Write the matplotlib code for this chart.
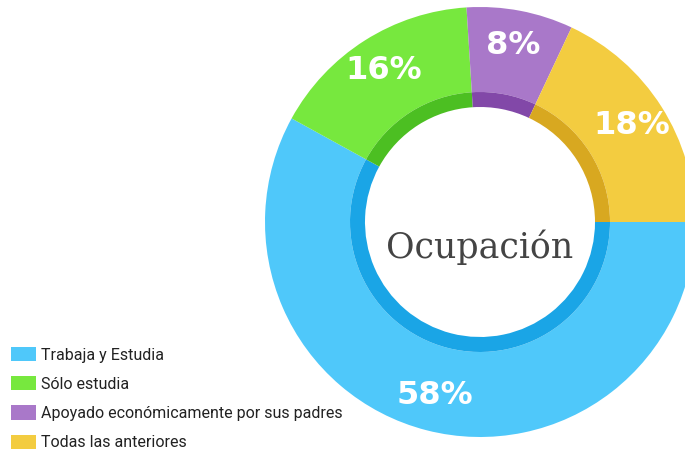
import matplotlib
matplotlib.use("Agg")
import matplotlib.pyplot as plt

# data
categories = ["Trabaja y Estudia", "Sólo estudia",
              "Apoyado económicamente por sus padres", "Todas las anteriores"]
shares = [58, 16, 8, 18]
colors = ["#4fc8fa", "#77e83e", "#a978c9", "#f3cc40"]
dark_colors = ["#1aa5e6", "#4cbf22", "#8248a8", "#d8a820"]
title = "Ocupación"

W, H = 685, 454
fig = plt.figure(figsize=(W / 100, H / 100), dpi=100)
# top 8 px stay white, the ring is cut there
ax = fig.add_axes([0, 0, 1, 446 / H])

cx, cy = 480, H - 222
r_out = 215
r_band = 130
r_in = 115

wedges, _, autotexts = ax.pie(
    shares, colors=colors, startangle=0, counterclock=False,
    center=(cx, cy), radius=r_out,
    wedgeprops=dict(width=r_out - r_band, linewidth=0),
    autopct=lambda p: f"{p:.0f}%", pctdistance=0.835,
    textprops=dict(color="white", fontsize=23, fontweight="heavy",
                   family="DejaVu Sans"))

# darker inner band
ax.pie(shares, colors=dark_colors, startangle=0, counterclock=False,
       center=(cx, cy), radius=r_band,
       wedgeprops=dict(width=r_band - r_in, linewidth=0))

ax.text(cx, H - 258, title, ha="center", va="baseline",
        fontsize=25, family="DejaVu Serif", color="#444444")

ax.set_xlim(0, W)
ax.set_ylim(0, 446)
ax.set_aspect("auto")
ax.axis("off")

fig.legend(wedges, categories, loc="upper left",
           bbox_to_anchor=(11 / W, 1 - 347 / H), frameon=False,
           prop=dict(family=["Roboto", "DejaVu Sans"], size=11.5),
           handlelength=1.55, handleheight=1.0, handletextpad=0.35,
           labelspacing=0.85, borderpad=0, borderaxespad=0,
           labelcolor="#222222")

fig.savefig("out.png", dpi=100, facecolor="white")
